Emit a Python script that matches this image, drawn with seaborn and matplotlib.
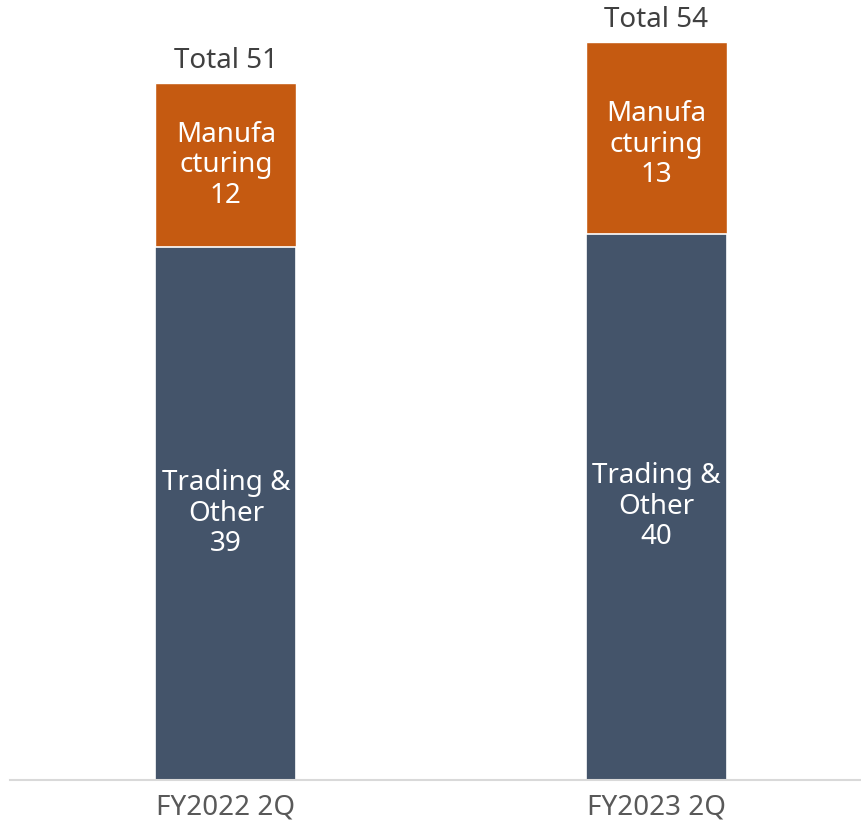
import numpy as np
import pandas as pd
import seaborn as sns
import matplotlib.pyplot as plt

periods = ['FY2022 2Q', 'FY2023 2Q']
trading = [39, 40]
manufacturing = [12, 13]
totals = [51, 54]

sns.set_style('white')
plt.rcParams['font.family'] = ['Noto Sans', 'DejaVu Sans']

df = pd.DataFrame({'period': periods, 'trading': trading,
                   'manufacturing': manufacturing, 'total': totals})

fig = plt.figure(figsize=(8.61, 8.22), dpi=100)
ax = fig.add_axes([10 / 861, 42 / 822, 850 / 861, 780 / 822])

# stacked: total bar in orange, trading bar drawn on top of it
sns.barplot(data=df, x='period', y='total', color='#C55A11', saturation=1,
            width=0.328, ax=ax)
sns.barplot(data=df, x='period', y='trading', color='#44546A', saturation=1,
            width=0.328, edgecolor='white', linewidth=1.2, ax=ax)

ax.set_xlim(-0.502, 1.474)
ax.set_ylim(0, 57.1)

for i, row in df.iterrows():
    ax.text(i, row['trading'] / 2, f"Trading &\nOther\n{row['trading']}",
            ha='center', va='center', color='white', fontsize=20, linespacing=1.12)
    ax.text(i, row['trading'] + row['manufacturing'] / 2,
            f"Manufa\ncturing\n{row['manufacturing']}",
            ha='center', va='center', color='white', fontsize=20, linespacing=1.12)
    ax.text(i, row['total'] + 0.6, f"Total {row['total']}",
            ha='center', va='bottom', color='#404040', fontsize=20)

ax.set_xlabel('')
ax.set_ylabel('')
ax.set_yticks([])
ax.tick_params(axis='x', length=0, labelsize=20, labelcolor='#595959', pad=10)
for side in ['top', 'left', 'right']:
    ax.spines[side].set_visible(False)
ax.spines['bottom'].set_color('#D9D9D9')
ax.spines['bottom'].set_linewidth(1.5)

fig.savefig('out.png', dpi=100)
